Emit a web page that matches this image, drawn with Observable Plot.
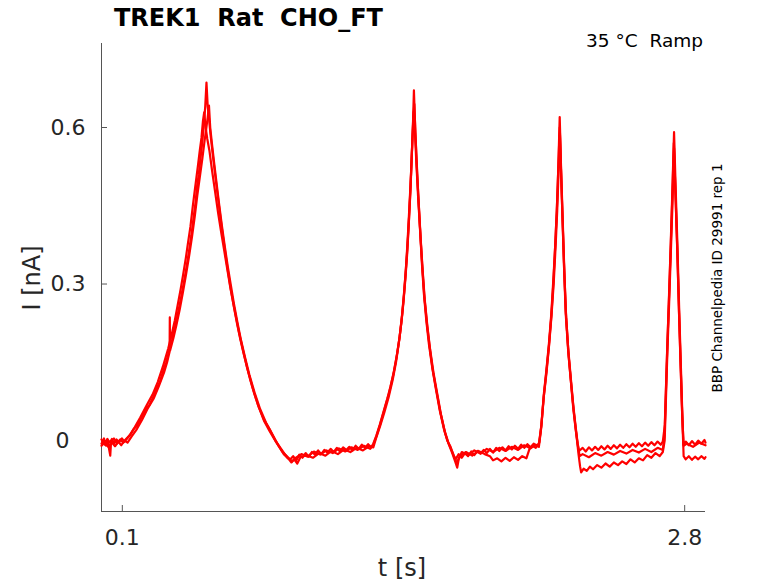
<!DOCTYPE html>
<html><head><meta charset="utf-8">
<script src="https://cdn.jsdelivr.net/npm/d3@7"></script>
<script src="https://cdn.jsdelivr.net/npm/@observablehq/plot@0.6"></script>
<style>body{margin:0;background:#fff} svg{display:block}</style>
</head><body><div id="chart"></div>
<script>
// ---- data (t [s], I [nA]) ----
const title = "TREK1  Rat  CHO_FT";
const subtitle = "35 °C  Ramp";
const sideNote = "BBP Channelpedia ID 29991 rep 1";
const xLabel = "t [s]";
const yLabel = "I [nA]";
const xTicks = [0.1, 2.8];
const yTicks = [0.3, 0.6];
const yTickZero = [0];
const xDomain = [0, 2.9];
const yDomain = [-0.136, 0.761];

const sweepA = [
[0,-0.006],[0.012,0.004],[0.022,-0.010],[0.030,0.002],[0.04,-0.004],[0.05,0.003],[0.06,-0.006],[0.072,0.002],[0.085,-0.003],[0.098,0.004],[0.11,-0.002],[0.123,0.004],
[0.14,0.012],[0.155,0.022],[0.17,0.028],[0.186,0.040],[0.2,0.050],[0.215,0.062],[0.23,0.068],[0.25,0.085],[0.265,0.100],[0.28,0.112],[0.298,0.136],[0.31,0.150],[0.325,0.172],[0.339,0.194],[0.355,0.222],[0.370,0.250],[0.383,0.276],[0.395,0.302],[0.407,0.330],[0.419,0.360],[0.431,0.392],[0.443,0.430],[0.452,0.458],[0.459,0.488],[0.467,0.510],[0.475,0.540],[0.483,0.568],[0.491,0.602],[0.498,0.640],[0.504,0.686],
[0.510,0.640],[0.516,0.618],[0.523,0.588],[0.535,0.545],[0.547,0.505],[0.559,0.466],[0.571,0.428],[0.583,0.392],[0.595,0.358],[0.607,0.325],[0.619,0.294],[0.635,0.258],[0.651,0.224],[0.667,0.193],[0.683,0.166],[0.699,0.140],[0.715,0.115],[0.735,0.088],[0.755,0.064],[0.78,0.040],[0.811,0.019],[0.835,0.000],[0.859,-0.014],[0.88,-0.026],[0.895,-0.034],[0.907,-0.036],
[0.92,-0.030],[0.935,-0.038],[0.95,-0.027],[0.965,-0.033],[0.98,-0.024],[0.995,-0.031],[1.01,-0.022],[1.025,-0.027],[1.04,-0.019],[1.055,-0.026],[1.07,-0.018],[1.085,-0.023],[1.10,-0.016],[1.115,-0.022],[1.13,-0.014],[1.145,-0.021],[1.16,-0.013],[1.175,-0.018],[1.19,-0.012],[1.205,-0.019],[1.22,-0.010],[1.235,-0.016],[1.25,-0.008],[1.265,-0.014],[1.28,-0.007],[1.295,-0.013],[1.305,-0.006],
[1.32,0.010],[1.336,0.030],[1.356,0.058],[1.372,0.080],[1.388,0.104],[1.404,0.133],[1.420,0.168],[1.432,0.200],[1.444,0.243],[1.452,0.278],[1.460,0.320],[1.468,0.366],[1.476,0.422],[1.483,0.475],[1.489,0.537],[1.495,0.600],[1.500,0.671],
[1.506,0.600],[1.513,0.537],[1.521,0.470],[1.529,0.409],[1.538,0.342],[1.548,0.281],[1.560,0.228],[1.572,0.185],[1.588,0.140],[1.604,0.102],[1.624,0.058],[1.644,0.022],[1.66,0.000],[1.676,-0.012],[1.69,-0.028],[1.700,-0.036],
[1.715,-0.026],[1.73,-0.033],[1.745,-0.024],[1.76,-0.030],[1.775,-0.021],[1.79,-0.028],[1.805,-0.020],[1.82,-0.025],[1.835,-0.018],[1.85,-0.024],[1.865,-0.016],[1.88,-0.023],[1.895,-0.014],[1.91,-0.020],[1.925,-0.013],[1.94,-0.019],[1.955,-0.011],[1.97,-0.017],[1.985,-0.010],[2.0,-0.016],[2.015,-0.008],[2.03,-0.014],[2.045,-0.007],[2.06,-0.013],[2.075,-0.006],[2.09,-0.011],[2.102,-0.004],
[2.112,0.030],[2.124,0.090],[2.136,0.135],[2.148,0.185],[2.160,0.245],[2.170,0.313],[2.178,0.370],[2.186,0.441],[2.193,0.520],[2.200,0.620],
[2.206,0.530],[2.213,0.441],[2.221,0.340],[2.229,0.249],[2.241,0.175],[2.253,0.121],[2.265,0.068],[2.277,0.025],[2.286,-0.005],[2.293,-0.020],
[2.31,-0.014],[2.325,-0.021],[2.34,-0.013],[2.355,-0.019],[2.37,-0.012],[2.385,-0.018],[2.40,-0.011],[2.415,-0.017],[2.43,-0.010],[2.445,-0.016],[2.46,-0.009],[2.475,-0.015],[2.49,-0.008],[2.505,-0.014],[2.52,-0.007],[2.535,-0.013],[2.55,-0.006],[2.565,-0.012],[2.58,-0.005],[2.595,-0.011],[2.61,-0.004],[2.625,-0.010],[2.64,-0.003],[2.655,-0.009],[2.67,-0.002],[2.685,-0.008],[2.695,-0.002],
[2.705,0.030],[2.717,0.185],[2.725,0.280],[2.733,0.377],[2.741,0.480],[2.749,0.591],
[2.757,0.480],[2.765,0.377],[2.773,0.260],[2.781,0.153],[2.788,0.060],[2.794,-0.008],
[2.805,-0.002],[2.82,-0.009],[2.835,-0.001],[2.85,-0.008],[2.865,0.000],[2.88,-0.006],[2.895,0.001],[2.90,-0.004]
];

const sweepB = [
[0,0.002],[0.015,-0.008],[0.028,0.003],[0.042,-0.029],[0.046,-0.002],[0.06,0.004],[0.075,-0.006],[0.09,0.002],[0.105,-0.004],[0.118,0.003],
[0.135,0.010],[0.16,0.026],[0.186,0.044],[0.215,0.066],[0.245,0.088],[0.27,0.112],[0.295,0.142],[0.32,0.176],[0.335,0.200],[0.352,0.230],[0.365,0.258],[0.38,0.290],[0.392,0.318],[0.405,0.350],[0.415,0.378],[0.427,0.410],[0.438,0.448],[0.448,0.480],[0.456,0.505],[0.464,0.530],[0.472,0.556],[0.480,0.580],[0.487,0.612],[0.493,0.629],
[0.500,0.600],[0.508,0.578],[0.518,0.556],[0.530,0.520],[0.545,0.478],[0.56,0.436],[0.575,0.398],[0.59,0.362],[0.605,0.326],[0.62,0.290],[0.64,0.248],[0.66,0.208],[0.68,0.172],[0.70,0.138],[0.725,0.102],[0.75,0.070],[0.78,0.038],[0.81,0.016],[0.84,-0.004],[0.87,-0.022],[0.90,-0.034],[0.915,-0.040],
[0.93,-0.034],[0.96,-0.026],[0.99,-0.031],[1.02,-0.021],[1.05,-0.027],[1.08,-0.019],[1.11,-0.024],[1.14,-0.015],[1.17,-0.021],[1.20,-0.013],[1.23,-0.018],[1.26,-0.010],[1.29,-0.016],[1.305,-0.008],
[1.32,0.008],[1.34,0.034],[1.36,0.062],[1.38,0.090],[1.40,0.124],[1.416,0.158],[1.43,0.195],[1.442,0.236],[1.452,0.280],[1.461,0.326],[1.47,0.385],[1.478,0.446],[1.486,0.510],[1.493,0.580],[1.499,0.630],
[1.505,0.590],[1.512,0.530],[1.52,0.468],[1.53,0.400],[1.54,0.335],[1.55,0.276],[1.563,0.222],[1.576,0.178],[1.59,0.136],[1.607,0.098],[1.627,0.054],[1.648,0.018],[1.665,-0.004],[1.68,-0.018],[1.695,-0.032],[1.705,-0.044],
[1.72,-0.030],[1.75,-0.022],[1.78,-0.029],[1.81,-0.020],[1.84,-0.026],[1.865,-0.030],[1.88,-0.038],[1.90,-0.034],[1.92,-0.040],[1.94,-0.033],[1.96,-0.039],[1.98,-0.032],[2.00,-0.037],[2.02,-0.030],[2.04,-0.034],[2.055,-0.016],[2.07,-0.010],[2.085,-0.014],[2.10,-0.006],
[2.112,0.028],[2.124,0.086],[2.136,0.132],[2.148,0.180],[2.16,0.240],[2.17,0.305],[2.179,0.380],[2.187,0.450],[2.194,0.530],[2.200,0.600],
[2.206,0.520],[2.213,0.430],[2.221,0.330],[2.229,0.242],[2.241,0.170],[2.253,0.116],[2.265,0.062],[2.277,0.020],[2.288,-0.012],[2.296,-0.030],
[2.31,-0.026],[2.34,-0.032],[2.37,-0.024],[2.40,-0.029],[2.43,-0.022],[2.46,-0.027],[2.49,-0.020],[2.52,-0.025],[2.55,-0.018],[2.58,-0.023],[2.61,-0.016],[2.64,-0.022],[2.67,-0.014],[2.695,-0.018],
[2.703,0.010],[2.716,0.175],[2.725,0.275],[2.733,0.370],[2.741,0.470],[2.748,0.570],
[2.756,0.470],[2.764,0.370],[2.772,0.255],[2.78,0.150],[2.788,0.050],[2.795,-0.010],
[2.81,-0.006],[2.84,-0.012],[2.87,-0.004],[2.90,-0.009]
];

const sweepC = [
[0,-0.010],[0.018,-0.002],[0.032,-0.012],[0.05,-0.004],[0.065,-0.011],[0.08,-0.002],[0.095,-0.009],[0.11,0.000],[0.125,-0.004],
[0.145,0.008],[0.17,0.022],[0.195,0.040],[0.22,0.060],[0.25,0.080],[0.275,0.104],[0.30,0.130],[0.315,0.150],[0.327,0.170],[0.328,0.236],[0.329,0.172],[0.345,0.196],[0.36,0.222],[0.375,0.250],[0.39,0.282],[0.405,0.316],[0.42,0.352],[0.435,0.392],[0.448,0.430],[0.46,0.470],[0.472,0.505],[0.484,0.540],[0.495,0.575],[0.503,0.598],[0.510,0.620],[0.516,0.642],
[0.522,0.600],[0.530,0.570],[0.540,0.535],[0.552,0.495],[0.565,0.452],[0.578,0.412],[0.592,0.372],[0.606,0.334],[0.62,0.300],[0.636,0.262],[0.652,0.228],[0.67,0.192],[0.69,0.158],[0.71,0.126],[0.735,0.092],[0.76,0.062],[0.79,0.034],[0.82,0.012],[0.85,-0.010],[0.875,-0.026],[0.90,-0.036],[0.912,-0.042],
[0.925,-0.036],[0.94,-0.044],[0.955,-0.032],[0.985,-0.028],[1.015,-0.033],[1.045,-0.024],[1.075,-0.029],[1.105,-0.020],[1.135,-0.026],[1.165,-0.017],[1.195,-0.022],[1.225,-0.014],[1.255,-0.019],[1.285,-0.011],[1.305,-0.013],
[1.318,0.004],[1.338,0.028],[1.358,0.054],[1.378,0.082],[1.398,0.116],[1.414,0.150],[1.428,0.188],[1.44,0.226],[1.45,0.266],[1.459,0.310],[1.468,0.360],[1.476,0.420],[1.484,0.490],[1.491,0.560],[1.497,0.620],[1.502,0.645],
[1.508,0.580],[1.515,0.515],[1.523,0.455],[1.532,0.390],[1.542,0.326],[1.552,0.270],[1.565,0.218],[1.578,0.174],[1.594,0.130],[1.61,0.094],[1.63,0.050],[1.65,0.014],[1.668,-0.008],[1.684,-0.024],[1.698,-0.040],[1.708,-0.052],[1.715,-0.036],
[1.73,-0.022],[1.76,-0.028],[1.79,-0.019],[1.82,-0.025],[1.85,-0.016],[1.88,-0.022],[1.91,-0.014],[1.94,-0.020],[1.97,-0.012],[2.00,-0.018],[2.03,-0.009],[2.06,-0.015],[2.085,-0.008],[2.10,-0.012],
[2.11,0.020],[2.123,0.082],[2.136,0.128],[2.148,0.178],[2.16,0.236],[2.171,0.300],[2.18,0.370],[2.188,0.440],[2.195,0.520],[2.201,0.590],
[2.207,0.510],[2.214,0.420],[2.222,0.322],[2.231,0.236],[2.243,0.162],[2.256,0.104],[2.268,0.054],[2.28,0.012],[2.29,-0.025],[2.298,-0.050],[2.303,-0.061],
[2.315,-0.054],[2.33,-0.058],[2.345,-0.050],[2.36,-0.055],[2.38,-0.047],[2.40,-0.052],[2.42,-0.044],[2.44,-0.050],[2.46,-0.042],[2.48,-0.047],[2.50,-0.040],[2.52,-0.045],[2.54,-0.036],[2.56,-0.042],[2.58,-0.034],[2.60,-0.038],[2.62,-0.028],[2.64,-0.033],[2.66,-0.024],[2.68,-0.030],[2.695,-0.022],
[2.704,0.000],[2.717,0.170],[2.726,0.270],[2.734,0.365],[2.742,0.460],[2.749,0.560],
[2.757,0.460],[2.765,0.360],[2.773,0.245],[2.781,0.140],[2.789,0.040],[2.795,-0.030],
[2.805,-0.036],[2.82,-0.030],[2.835,-0.037],[2.85,-0.031],[2.865,-0.036],[2.88,-0.030],[2.895,-0.035],[2.90,-0.032]
];

const sweeps = {A: sweepA, B: sweepB, C: sweepC};
const data = Object.entries(sweeps).flatMap(([k, arr]) => arr.map(([t, I]) => ({sweep: k, t, I})));

const axisColor = "#262626";
const font = "DejaVu Sans, sans-serif";

const chart = Plot.plot({
  width: 778,
  height: 583,
  marginLeft: 101,
  marginRight: 73,
  marginTop: 43,
  marginBottom: 72,
  style: {fontFamily: font, background: "#fff"},
  x: {domain: xDomain},
  y: {domain: yDomain},
  marks: [
    Plot.ruleX([xDomain[0]], {stroke: "#555", strokeWidth: 1}),
    Plot.ruleY([yDomain[0]], {stroke: "#555", strokeWidth: 1}),
    Plot.axisX(xTicks, {tickSize: -6, tickPadding: 24, fontSize: 22, stroke: "#555", fill: axisColor, label: null, tickFormat: d => String(d)}),
    Plot.axisY(yTicks, {tickSize: -6, tickPadding: 22, fontSize: 22, stroke: "#555", fill: axisColor, label: null, tickFormat: d => String(d)}),
    Plot.axisY(yTickZero, {tickSize: -6, tickPadding: 38, fontSize: 22, stroke: "#555", fill: axisColor, label: null, tickFormat: d => String(d)}),
    Plot.line(data, {x: "t", y: "I", z: "sweep", stroke: "#ff0000", strokeWidth: 2.2, strokeLinejoin: "round"})
  ]
});
document.getElementById("chart").append(chart);

const svg = d3.select(chart);
svg.append("text").attr("x", 114).attr("y", 26).attr("text-anchor", "start").attr("font-family", font).attr("font-size", 24)
  .attr("font-weight", "bold").attr("fill", "#000").style("white-space", "pre").text(title);
svg.append("text").attr("x", 703).attr("y", 47).attr("text-anchor", "end").attr("font-family", font)
  .attr("font-size", 18.5).attr("fill", "#000").style("white-space", "pre").text(subtitle);
svg.append("text").attr("transform", "translate(722,278) rotate(-90)").attr("text-anchor", "middle")
  .attr("font-family", font).attr("font-size", 13.5).attr("fill", "#000").text(sideNote);
svg.append("text").attr("x", 402).attr("y", 576).attr("text-anchor", "middle").attr("font-family", font)
  .attr("font-size", 24).attr("fill", axisColor).text(xLabel);
svg.append("text").attr("transform", "translate(40,278) rotate(-90)").attr("text-anchor", "middle")
  .attr("font-family", font).attr("font-size", 24).attr("fill", axisColor).text(yLabel);
</script>
</body></html>
